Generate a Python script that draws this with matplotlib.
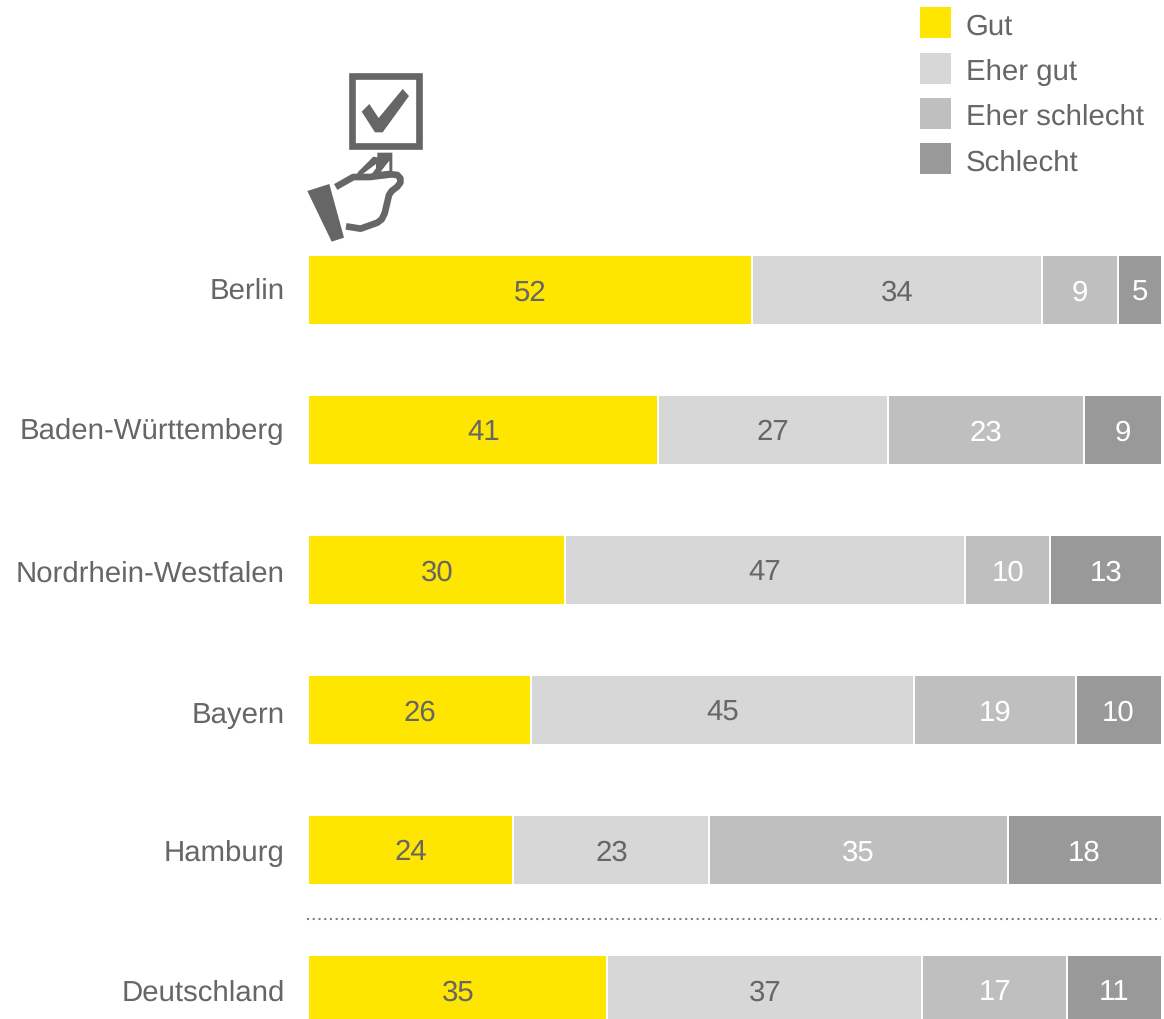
import matplotlib
matplotlib.use("Agg")
import matplotlib.pyplot as plt
from matplotlib.patches import Polygon, Rectangle

plt.rcParams['font.family'] = ['Liberation Sans', 'DejaVu Sans']
plt.rcParams['text.hinting'] = 'no_hinting'
plt.rcParams['text.hinting_factor'] = 8

regions = ["Berlin", "Baden-Württemberg", "Nordrhein-Westfalen", "Bayern", "Hamburg", "Deutschland"]
series_names = ["Gut", "Eher gut", "Eher schlecht", "Schlecht"]
gut = [52, 41, 30, 26, 24, 35]
eher_gut = [34, 27, 47, 45, 23, 37]
eher_schlecht = [9, 23, 10, 19, 35, 17]
schlecht = [5, 9, 13, 10, 18, 11]

colors = ["#FFE600", "#D7D7D7", "#BFBFBF", "#999999"]
label_colors = ["#666666", "#666666", "#FFFFFF", "#FFFFFF"]
GREY = "#666666"
W, H = 1164, 1019
FS = 21.2

fig = plt.figure(figsize=(W / 100, H / 100), dpi=100, facecolor="white")

# Bar area: 0..100 % spans x = 309..1161 px, rows are 140 px apart
ax = fig.add_axes([309 / W, 0, (1161 - 309) / W, 1])
ax.set_xlim(0, 100)
row_step, first_row = 140.0, 289.75
ax.set_ylim((H - first_row) / row_step, -first_row / row_step)
ax.axis("off")

bar_h = 68 / row_step
value_baselines = [301.0, 440.5, 580.5, 721.0, 860.5, 1000.5]
for i, region in enumerate(regions):
    left = 0
    y_text = (value_baselines[i] - first_row) / row_step
    for vals, c, lc in zip([gut, eher_gut, eher_schlecht, schlecht], colors, label_colors):
        v = vals[i]
        ax.barh(i, v, left=left, height=bar_h, color=c, edgecolor="none")
        ax.text(left + v / 2, y_text, str(v), ha="center", va="baseline",
                color=lc, fontsize=FS)
        left += v
        # White gap between neighbouring segments
        if left < 100:
            ax.plot([left, left], [i - bar_h / 2, i + bar_h / 2], color="white", lw=1.4,
                    solid_capstyle="butt")

# Overlay in pixel coordinates for row labels, legend, divider and icon
ov = fig.add_axes([0, 0, 1, 1], facecolor="none")
ov.set_xlim(0, W)
ov.set_ylim(H, 0)
ov.axis("off")

row_label_baselines = [298.5, 439, 581.5, 722.5, 860.5, 1000.5]
for region, y in zip(regions, row_label_baselines):
    ov.text(284.5, y, region, ha="right", va="baseline", color=GREY, fontsize=FS)

ov.plot([307, 1161], [919, 919], color="#808080", lw=1.5, linestyle=(0, (1, 1.75)))

legend_tops = [7, 53, 98, 143]
legend_baselines = [34.5, 79.5, 124.5, 170.5]
for name, c, top, base in zip(series_names, colors, legend_tops, legend_baselines):
    ov.add_patch(Rectangle((920, top), 31, 31, facecolor=c, edgecolor="none"))
    ov.text(965.5, base, name, ha="left", va="baseline", color=GREY, fontsize=FS)


def icon_pts(points):
    """Scale icon outline points (drawn on a 3x grid) to pixel positions."""
    return [(290 + x / 3, 60 + y / 3) for x, y in points]


# Checkbox with tick
ov.add_patch(Rectangle((351.6, 76), 67.4, 70, fill=False, edgecolor=GREY, linewidth=4.8))
ov.add_patch(Polygon(icon_pts([(215, 155), (238, 132), (266, 174), (338, 87), (357, 108),
                               (278, 217), (255, 217)]), facecolor=GREY, edgecolor="none"))
# Cuff
ov.add_patch(Polygon(icon_pts([(52, 393), (118, 372), (162, 533), (125, 545)]),
                     facecolor=GREY, edgecolor="none"))
# Thumb and the card's stem
ov.add_patch(Polygon(icon_pts([(262, 278), (307, 278), (307, 335), (300, 352), (195, 352),
                               (205, 335), (250, 290), (262, 292)]),
                     facecolor=GREY, edgecolor="none"))
ov.add_patch(Polygon(icon_pts([(258, 312), (258, 325), (245, 342), (218, 342)]),
                     facecolor="white", edgecolor="none"))
ov.add_patch(Polygon(icon_pts([(298, 302), (298, 332), (272, 335)]),
                     facecolor="white", edgecolor="none"))
# Palm outline
palm = icon_pts([(137, 381), (190, 351), (240, 351), (305, 343), (322, 345), (331, 355), (331, 368),
                 (322, 380), (305, 393), (297, 405), (284, 460), (275, 478), (262, 488),
                 (212, 506), (168, 499)])
ov.plot(*zip(*palm), color=GREY, lw=4.8, solid_joinstyle="round", solid_capstyle="butt")

fig.savefig("out.png", dpi=100, facecolor="white")
